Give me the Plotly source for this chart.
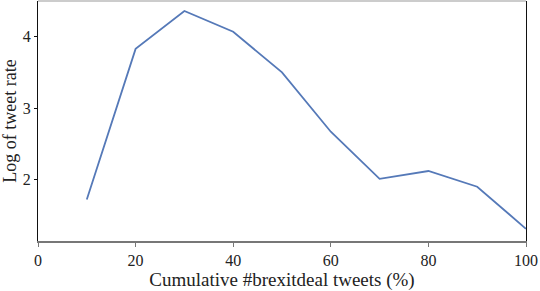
import plotly.graph_objects as go

pct = [10, 20, 30, 40, 50, 60, 70, 80, 90, 100]
log_rate = [1.72, 3.83, 4.36, 4.07, 3.50, 2.67, 2.01, 2.12, 1.90, 1.31]
x_ticks = [0, 20, 40, 60, 80, 100]
y_ticks = [2, 3, 4]

font_family = "Liberation Serif, DejaVu Serif, serif"

fig = go.Figure(go.Scatter(x=pct, y=log_rate, mode="lines",
                           line=dict(color="#5579b8", width=1.8), showlegend=False))

fig.update_layout(
    width=540, height=291,
    margin=dict(l=38, r=14, t=1, b=50),
    paper_bgcolor="white", plot_bgcolor="white",
    font=dict(family=font_family, size=16, color="#222"),
    shapes=[dict(type="line", xref="x domain", yref="y domain", x0=0, x1=1, y0=1, y1=1,
                 line=dict(color="#bbb", width=1.5))],
)
fig.update_xaxes(
    range=[0, 100], tickvals=x_ticks, showgrid=False, zeroline=False,
    showline=True, linecolor="#777", linewidth=1.5, mirror=False,
    ticks="outside", ticklen=4, tickcolor="#777",
    title=dict(text="Cumulative #brexitdeal tweets (%)", standoff=3,
               font=dict(family=font_family, size=19)),
    tickfont=dict(family=font_family, size=16),
)
fig.update_yaxes(
    range=[1.14, 4.5], tickvals=y_ticks, showgrid=False, zeroline=False,
    showline=True, linecolor="#111", linewidth=1.2, mirror=True,
    ticks="outside", ticklen=3, tickcolor="#111",
    title=dict(text="Log of tweet rate", standoff=4,
               font=dict(family=font_family, size=18)),
    tickfont=dict(family=font_family, size=16),
)

fig.write_html("out.html", config={"displayModeBar": False},
               post_script="document.body.style.margin='0';document.body.style.padding='0';")
